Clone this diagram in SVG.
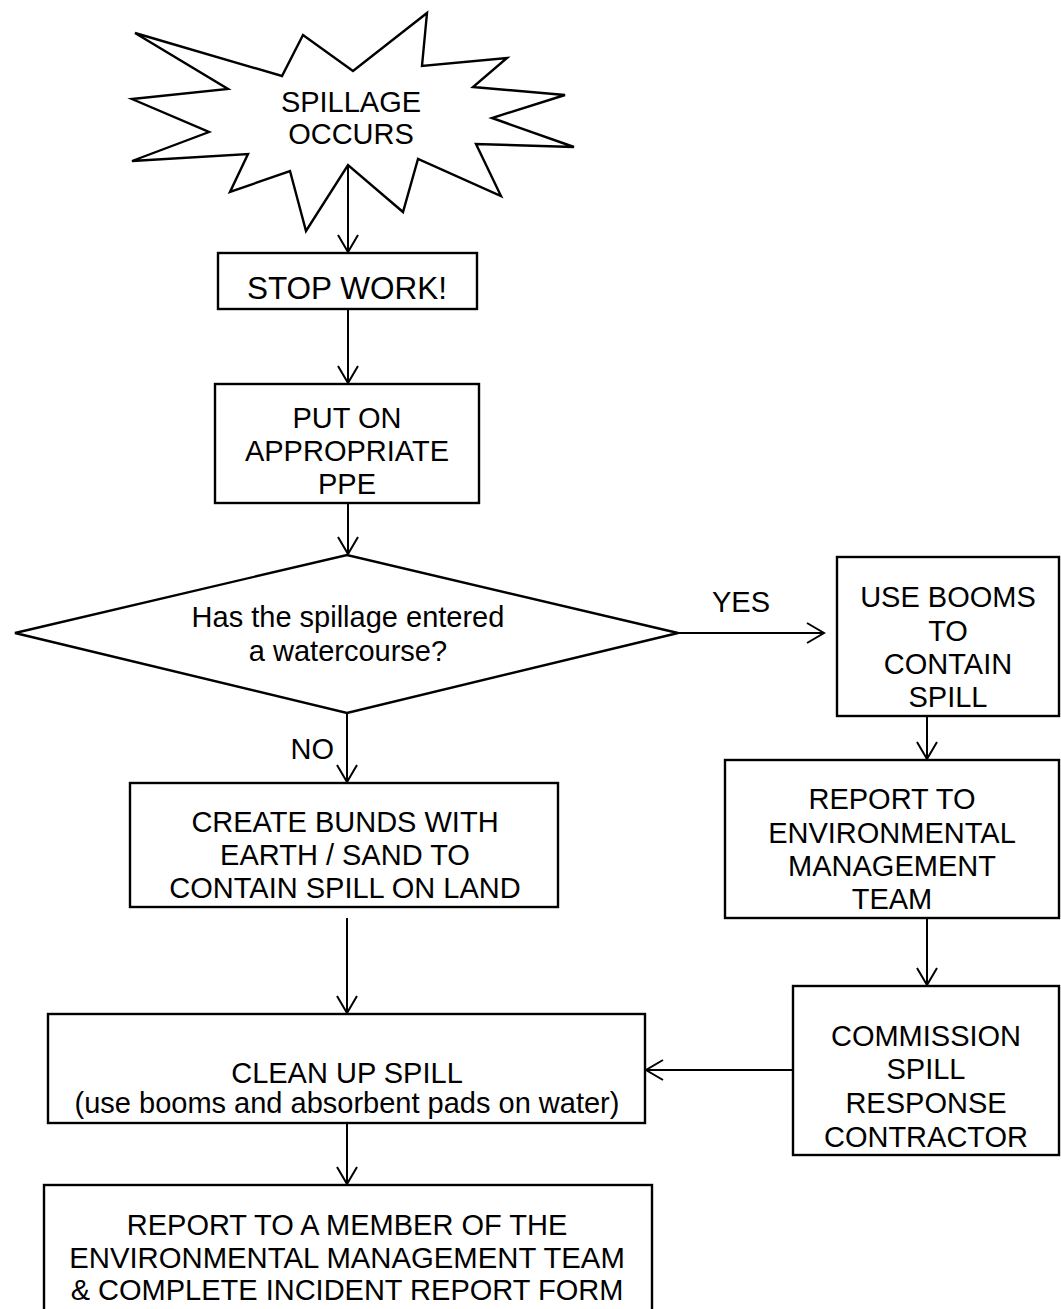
<svg xmlns="http://www.w3.org/2000/svg" width="1061" height="1309" viewBox="0 0 1061 1309">
<defs>
<style>
.s{fill:#fff;stroke:#000;stroke-width:2.4;stroke-linejoin:miter}
.t{font-family:"Liberation Sans",Arial,sans-serif;font-size:29px;fill:#000;text-anchor:middle}
.c{fill:none;stroke:#000;stroke-width:2}
</style>
<marker id="ah" viewBox="0 0 20 24" refX="18" refY="12" markerWidth="20" markerHeight="24" markerUnits="userSpaceOnUse" orient="auto">
<path d="M1,2 L18,12 L1,22" fill="none" stroke="#000" stroke-width="2"/>
</marker>
</defs>
<rect width="1061" height="1309" fill="#fff"/>
<g id="start">
<polygon class="s" points="135,33 282,76 303,35 353,71 427,13 422,66 507,58 473,87 565,95 492,118 574,147 476,144 501,196 418,159 403,212 348,165 306,231 290,171 230,192 248,154 132,161 209,132 132,99 228,89"/>
<text class="t" x="351" y="112">SPILLAGE</text>
<text class="t" x="351" y="144">OCCURS</text>
</g>
<g id="stop">
<rect class="s" x="218" y="253" width="259" height="56"/>
<text class="t" x="347" y="299" style="font-size:31.5px">STOP WORK!</text>
</g>
<g id="ppe">
<rect class="s" x="215" y="384" width="264" height="119"/>
<text class="t" x="347" y="428">PUT ON</text>
<text class="t" x="347" y="461">APPROPRIATE</text>
<text class="t" x="347" y="494">PPE</text>
</g>
<g id="decision">
<polygon class="s" points="15,633 347,555 678,633 347,713"/>
<text class="t" x="348" y="627">Has the spillage entered</text>
<text class="t" x="348" y="661">a watercourse?</text>
</g>
<g id="booms">
<rect class="s" x="837" y="557" width="222" height="159"/>
<text class="t" x="948" y="607">USE BOOMS</text>
<text class="t" x="948" y="641">TO</text>
<text class="t" x="948" y="674">CONTAIN</text>
<text class="t" x="948" y="707">SPILL</text>
</g>
<g id="report-emt">
<rect class="s" x="725" y="760" width="334" height="158"/>
<text class="t" x="892" y="809">REPORT TO</text>
<text class="t" x="892" y="843">ENVIRONMENTAL</text>
<text class="t" x="892" y="876">MANAGEMENT</text>
<text class="t" x="892" y="909">TEAM</text>
</g>
<g id="commission">
<rect class="s" x="793" y="986" width="266" height="169"/>
<text class="t" x="926" y="1046">COMMISSION</text>
<text class="t" x="926" y="1079">SPILL</text>
<text class="t" x="926" y="1113">RESPONSE</text>
<text class="t" x="926" y="1147">CONTRACTOR</text>
</g>
<g id="bunds">
<rect class="s" x="130" y="783" width="428" height="124"/>
<text class="t" x="345" y="832">CREATE BUNDS WITH</text>
<text class="t" x="345" y="865">EARTH / SAND TO</text>
<text class="t" x="345" y="898">CONTAIN SPILL ON LAND</text>
</g>
<g id="cleanup">
<rect class="s" x="48" y="1014" width="597" height="109"/>
<text class="t" x="347" y="1083">CLEAN UP SPILL</text>
<text class="t" x="347" y="1113">(use booms and absorbent pads on water)</text>
</g>
<g id="final">
<rect class="s" x="44" y="1185" width="608" height="140"/>
<text class="t" x="347" y="1235">REPORT TO A MEMBER OF THE</text>
<text class="t" x="347" y="1268" style="font-size:29.3px">ENVIRONMENTAL MANAGEMENT TEAM</text>
<text class="t" x="347" y="1300">&amp; COMPLETE INCIDENT REPORT FORM</text>
</g>
<g id="connectors">
<line class="c" x1="348" y1="165" x2="348" y2="252" marker-end="url(#ah)"/>
<line class="c" x1="348" y1="309" x2="348" y2="383" marker-end="url(#ah)"/>
<line class="c" x1="348" y1="503" x2="348" y2="554" marker-end="url(#ah)"/>
<line class="c" x1="678" y1="633" x2="824" y2="633" marker-end="url(#ah)"/>
<text class="t" x="741" y="612">YES</text>
<line class="c" x1="347" y1="713" x2="347" y2="782" marker-end="url(#ah)"/>
<text class="t" x="334" y="759" style="text-anchor:end">NO</text>
<line class="c" x1="927" y1="716" x2="927" y2="759" marker-end="url(#ah)"/>
<line class="c" x1="927" y1="918" x2="927" y2="985" marker-end="url(#ah)"/>
<line class="c" x1="347" y1="918" x2="347" y2="1013" marker-end="url(#ah)"/>
<line class="c" x1="793" y1="1070" x2="646" y2="1070" marker-end="url(#ah)"/>
<line class="c" x1="347" y1="1123" x2="347" y2="1184" marker-end="url(#ah)"/>
</g>
</svg>
